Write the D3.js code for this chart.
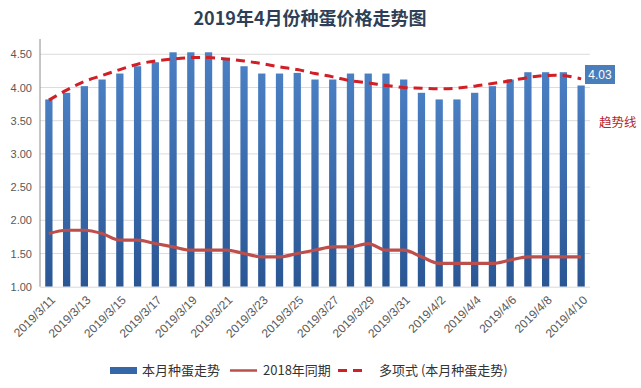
<!DOCTYPE html>
<html><head><meta charset="utf-8">
<script src="https://cdn.jsdelivr.net/npm/d3@7"></script>
<style>body{margin:0;background:#fff}svg{display:block}</style>
</head><body>
<svg id="c" width="641" height="388"></svg>
<script>
const dates = ["2019/3/11","2019/3/12","2019/3/13","2019/3/14","2019/3/15","2019/3/16","2019/3/17","2019/3/18","2019/3/19","2019/3/20","2019/3/21","2019/3/22","2019/3/23","2019/3/24","2019/3/25","2019/3/26","2019/3/27","2019/3/28","2019/3/29","2019/3/30","2019/3/31","2019/4/1","2019/4/2","2019/4/3","2019/4/4","2019/4/5","2019/4/6","2019/4/7","2019/4/8","2019/4/9","2019/4/10"];
const price2019 = [3.82,3.92,4.02,4.12,4.21,4.32,4.38,4.53,4.53,4.53,4.43,4.32,4.21,4.21,4.22,4.12,4.12,4.21,4.21,4.21,4.12,3.92,3.82,3.82,3.92,4.02,4.12,4.23,4.23,4.23,4.03];
const price2018 = [1.8,1.85,1.85,1.8,1.7,1.7,1.65,1.6,1.55,1.55,1.55,1.5,1.45,1.45,1.5,1.55,1.6,1.6,1.65,1.55,1.55,1.45,1.35,1.35,1.35,1.35,1.4,1.45,1.45,1.45,1.45];
const trend = [3.81,3.96,4.09,4.18,4.27,4.35,4.40,4.43,4.45,4.45,4.43,4.40,4.36,4.31,4.27,4.21,4.16,4.10,4.07,4.03,4.00,3.99,3.98,3.99,4.02,4.06,4.10,4.15,4.18,4.18,4.13];
const yTicks = [1.0,1.5,2.0,2.5,3.0,3.5,4.0,4.5];
const title = "2019年4月份种蛋价格走势图";
const legendNames = ["本月种蛋走势","2018年同期","多项式 (本月种蛋走势)"];

const svg = d3.select("#c");
const font = "'Noto Sans CJK SC','Noto Sans',sans-serif";
const L = 40, R = 590, T = 41, B = 286.7;
const x = d3.scaleBand().domain(dates).range([L, R]).paddingInner(0.59).paddingOuter(0.295);
const y = d3.scaleLinear().domain([1, 4.7]).range([B, T]);

const defs = svg.append("defs");
const g = defs.append("linearGradient").attr("id","bg").attr("x1",0).attr("y1",0).attr("x2",0).attr("y2",1);
g.append("stop").attr("offset","0%").attr("stop-color","#4a7fc3");
g.append("stop").attr("offset","100%").attr("stop-color","#2a5694");

// title
svg.append("text").attr("x",310).attr("y",25).attr("text-anchor","middle")
  .attr("font-family",font).attr("font-weight","bold").attr("font-size",18)
  .attr("fill","#2f3f56").text(title);

// gridlines
svg.append("g").selectAll("line").data(yTicks.slice(1)).join("line")
  .attr("x1",L).attr("x2",R).attr("y1",d=>y(d)).attr("y2",d=>y(d))
  .attr("stroke","#dcdcdc").attr("stroke-width",1);

// y axis
const ya = svg.append("g").attr("transform",`translate(${L},0)`)
  .call(d3.axisLeft(y).tickValues(yTicks).tickFormat(d3.format(".2f")).tickSize(0).tickPadding(8));
ya.select(".domain").attr("stroke","#8c8c8c").attr("d",`M0,${T-2}V${B}`);
ya.selectAll("text").attr("font-family","'Liberation Sans',Arial,sans-serif").attr("font-size",11).attr("fill","#595959");

// bars
svg.append("g").selectAll("rect").data(price2019).join("rect")
  .attr("x",(d,i)=>x(dates[i])).attr("width",x.bandwidth())
  .attr("y",d=>y(d)).attr("height",d=>B-y(d)).attr("fill","url(#bg)");

// bottom axis
svg.append("line").attr("x1",L).attr("x2",R).attr("y1",B+0.5).attr("y2",B+0.5).attr("stroke","#d9d9d9");

// x labels
const xa = svg.append("g").attr("transform",`translate(0,${B})`)
  .call(d3.axisBottom(x).tickValues(dates.filter((d,i)=>i%2===0)).tickSize(0));
xa.select(".domain").remove();
xa.selectAll("text").attr("font-family","'Liberation Sans',Arial,sans-serif").attr("font-size",12).attr("fill","#595959")
  .attr("text-anchor","end").attr("dy",0).attr("transform","translate(7,14) rotate(-45)")
  .attr("y",0).attr("x",0);

const cx = (d,i)=>x(dates[i])+x.bandwidth()/2;
// 2018 line
svg.append("path").datum(price2018).attr("fill","none").attr("stroke","#bc4f4c").attr("stroke-width",3.2)
  .attr("d",d3.line().x(cx).y(d=>y(d)).curve(d3.curveMonotoneX));
// trend
svg.append("path").datum(trend).attr("fill","none").attr("stroke","#d21f26").attr("stroke-width",3)
  .attr("stroke-dasharray","9,6")
  .attr("d",d3.line().x(cx).y(d=>y(d)).curve(d3.curveCatmullRom));

// data label
const last = price2019[price2019.length-1];
svg.append("rect").attr("x",585).attr("y",65).attr("width",30).attr("height",19).attr("fill","#4a7ebb");
svg.append("text").attr("x",600).attr("y",79).attr("text-anchor","middle").attr("fill","#fff")
  .attr("font-family","'Liberation Sans',Arial,sans-serif").attr("font-size",12).text(last.toFixed(2));
svg.append("text").attr("x",599).attr("y",127).attr("fill","#b8232c")
  .attr("font-family",font).attr("font-size",12.5).text("趋势线");

// legend
const lg = svg.append("g").attr("font-family",font).attr("font-size",13).attr("fill","#333");
lg.append("rect").attr("x",110).attr("y",367).attr("width",27).attr("height",7).attr("fill","#3566a8");
lg.append("text").attr("x",142).attr("y",375).text(legendNames[0]);
lg.append("line").attr("x1",230).attr("x2",257).attr("y1",370.5).attr("y2",370.5).attr("stroke","#bc4f4c").attr("stroke-width",2.5);
lg.append("text").attr("x",263).attr("y",375).text(legendNames[1]);
lg.append("line").attr("x1",338).attr("x2",368).attr("y1",370.5).attr("y2",370.5).attr("stroke","#d21f26").attr("stroke-width",3).attr("stroke-dasharray","9,6");
lg.append("text").attr("x",379).attr("y",375).text(legendNames[2]);
</script>
</body></html>
